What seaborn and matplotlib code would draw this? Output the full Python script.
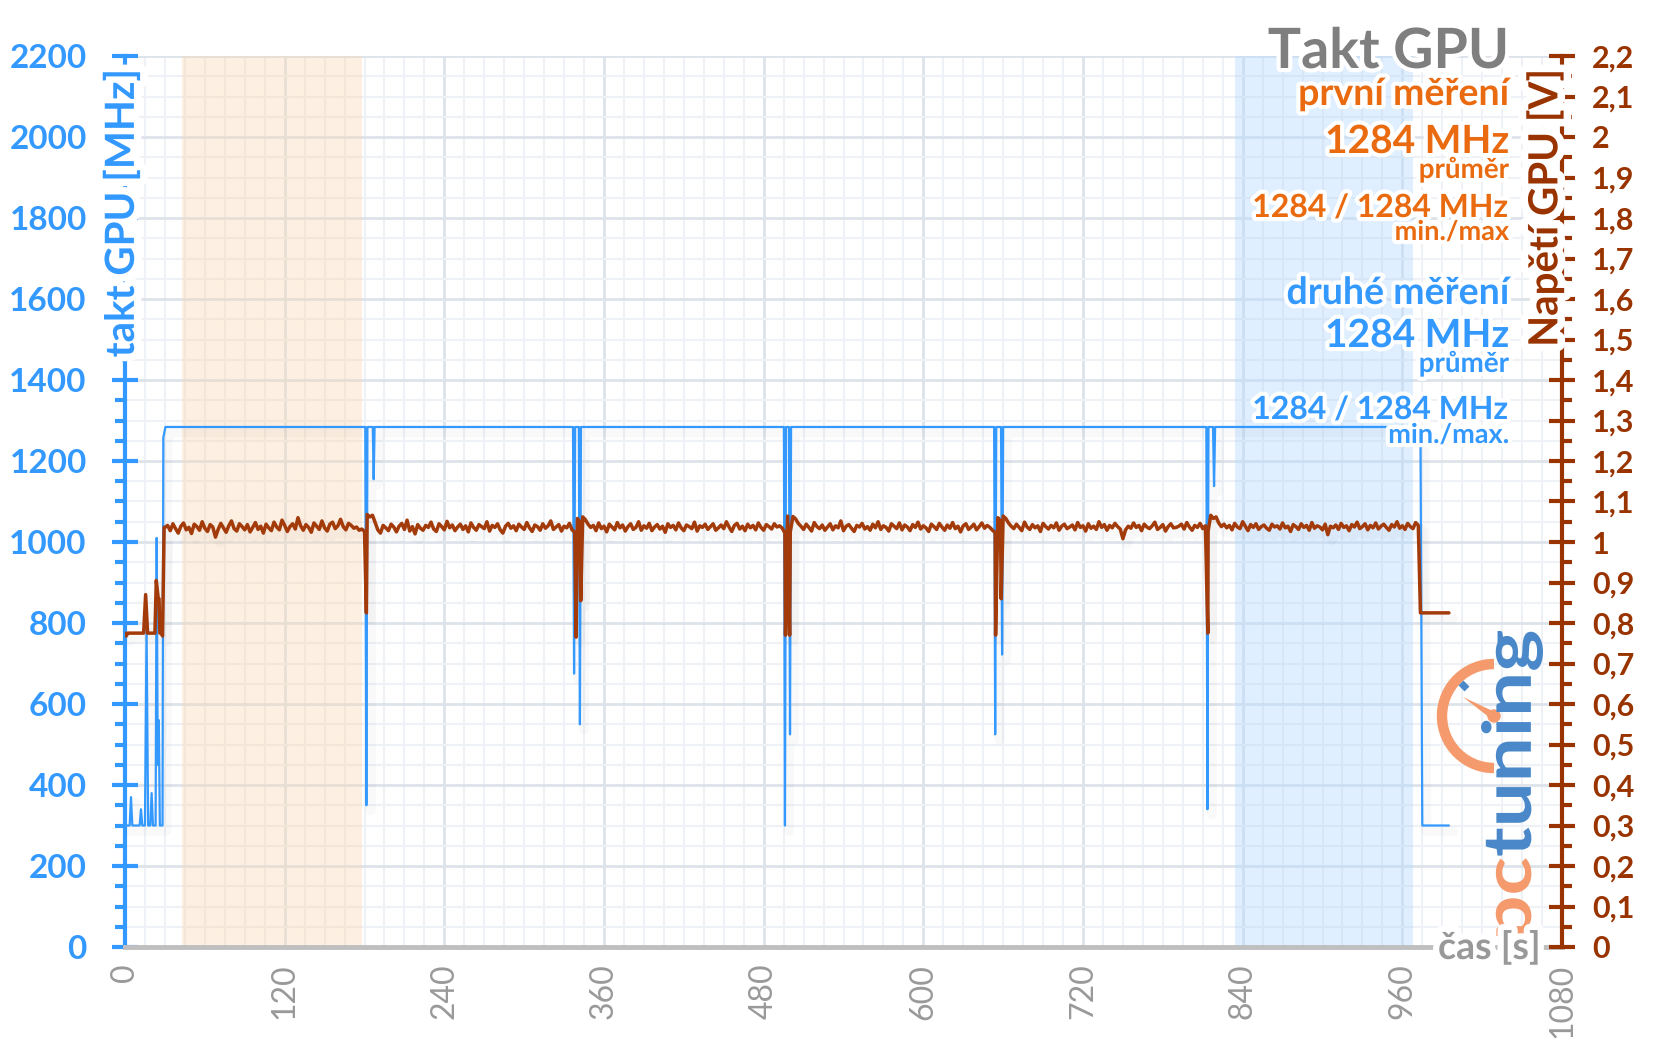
import numpy as np
import pandas as pd
import matplotlib
matplotlib.use('Agg')
import matplotlib.pyplot as plt
import matplotlib.patheffects as pe
from matplotlib.ticker import MultipleLocator
from matplotlib.patches import Arc, PathPatch, Polygon, Circle
from matplotlib.lines import Line2D
from matplotlib.textpath import TextPath
from matplotlib.font_manager import FontProperties
from matplotlib.transforms import Affine2D
import seaborn as sns

#-----------data--------------------------------
# GPU clock [MHz], breakpoints (time s, value)
clock_t = [0, 3.5, 4.5, 5.5, 11, 12, 13, 15, 16.2, 17.4, 19, 20, 21, 23, 23.8, 24.6, 25.4, 26.2, 28.2, 28.8, 30.4,
           180.6, 181.4, 182.2, 186.2, 186.9, 187.6,
           336.7, 337.5, 338.3, 341.1, 341.9, 342.7,
           495.2, 496, 496.8, 499, 499.8, 500.6,
           653.2, 654, 654.8, 658.4, 659.2, 660,
           812.7, 813.5, 814.3, 817.7, 818.5, 819.3,
           973.6, 975, 995]
clock_mhz = [300, 300, 370, 300, 300, 340, 300, 300, 790, 300, 300, 380, 300, 300, 1010, 450, 560, 300, 300, 1258, 1284,
             1284, 350, 1284, 1284, 1155, 1284,
             1284, 675, 1284, 1284, 550, 1284,
             1284, 300, 1284, 1284, 525, 1284,
             1284, 525, 1284, 1284, 722, 1284,
             1284, 340, 1284, 1284, 1138, 1284,
             1284, 300, 300]

# GPU voltage [V]: idle start, load noise (every 2 s from 30 s, in mV), dips, idle end
volt_start_t = [0, 1, 2, 14, 15.5, 17, 22.5, 23.5, 25, 25.6, 26.2, 27.4, 28.2, 29.4]
volt_start_v = [0.775, 0.768, 0.775, 0.775, 0.87, 0.775, 0.775, 0.905, 0.86, 0.86, 0.775, 0.775, 0.768, 1.036]

volt_noise_mv = [
    1036, 1041, 1028, 1045, 1033, 1022, 1039, 1047, 1030, 1036, 1021, 1044, 1038, 1029, 1050, 1034, 1026, 1043, 1037, 1012,
    1031, 1046, 1035, 1024, 1040, 1052, 1033, 1027, 1045, 1038, 1030, 1043, 1025, 1036, 1048, 1031, 1039, 1022, 1044, 1035,
    1028, 1049, 1037, 1030, 1054, 1041, 1026, 1038, 1045, 1032, 1060, 1040, 1029, 1043, 1036, 1024, 1047, 1039, 1031, 1052,
    1035, 1027, 1044, 1049, 1033, 1040, 1056, 1038, 1030, 1046, 1041, 1034, 1037, 1029, 1032, 1026, 1068, 1062, 1066, 1048,
    1030, 1022, 1041, 1035, 1028, 1044, 1037, 1025, 1039, 1046, 1031, 1054, 1027, 1038, 1020, 1043, 1034, 1029, 1041, 1036,
    1049, 1032, 1026, 1045, 1038, 1030, 1051, 1035, 1042, 1028, 1037, 1044, 1031, 1040, 1025, 1047, 1036, 1029, 1043, 1038,
    1033, 1050, 1027, 1041, 1036, 1045, 1030, 1022, 1039, 1046, 1034, 1040, 1028, 1044, 1037, 1031, 1048, 1035, 1026, 1042,
    1038, 1029, 1045, 1034, 1040, 1052, 1031, 1037, 1043, 1027, 1039, 1035, 1046, 1030, 1024, 1058, 1049, 1062, 1055, 1044,
    1036, 1041, 1028, 1047, 1033, 1039, 1025, 1044, 1037, 1030, 1048, 1035, 1042, 1027, 1038, 1045, 1031, 1036, 1050, 1029,
    1040, 1034, 1046, 1028, 1037, 1043, 1032, 1039, 1024, 1045, 1036, 1041, 1030, 1047, 1035, 1028, 1042, 1038, 1033, 1049,
    1027, 1040, 1036, 1044, 1031, 1038, 1045, 1029, 1035, 1042, 1033, 1050, 1037, 1026, 1041, 1046, 1032, 1039, 1028, 1044,
    1035, 1041, 1030, 1047, 1036, 1029, 1043, 1038, 1032, 1045, 1037, 1040, 1034, 1022, 1064, 1025, 1063, 1057, 1046, 1039,
    1031, 1044, 1036, 1027, 1048, 1038, 1033, 1042, 1029, 1037, 1045, 1030, 1040, 1035, 1052, 1028, 1039, 1043, 1034, 1026,
    1041, 1037, 1046, 1032, 1038, 1029, 1044, 1035, 1050, 1031, 1040, 1036, 1027, 1045, 1039, 1033, 1047, 1030, 1042, 1037,
    1028, 1043, 1036, 1049, 1032, 1040, 1035, 1026, 1044, 1038, 1031, 1046, 1037, 1029, 1042, 1034, 1048, 1033, 1039, 1025,
    1040, 1045, 1031, 1037, 1044, 1030, 1038, 1047, 1034, 1041, 1036, 1029, 1023, 1060, 1052, 1064, 1058, 1047, 1039, 1033,
    1044, 1036, 1028, 1049, 1037, 1031, 1043, 1035, 1040, 1026, 1046, 1038, 1032, 1041, 1035, 1047, 1029, 1039, 1044, 1033,
    1037, 1042, 1030, 1048, 1036, 1040, 1027, 1045, 1034, 1039, 1031, 1050, 1036, 1043, 1029, 1041, 1035, 1046, 1038, 1032,
    1008, 1030, 1039, 1034, 1047, 1036, 1041, 1028, 1044, 1037, 1033, 1040, 1049, 1031, 1036, 1043, 1027, 1038, 1045, 1035,
    1036, 1039, 1044, 1032, 1048, 1037, 1029, 1041, 1036, 1046, 1033, 1040, 1026, 1066, 1058, 1062, 1047, 1038, 1044, 1035,
    1041, 1030, 1046, 1037, 1033, 1050, 1039, 1028, 1043, 1036, 1045, 1031, 1038, 1042, 1034, 1029, 1044, 1037, 1040, 1032,
    1047, 1035, 1039, 1026, 1043, 1038, 1031, 1045, 1036, 1041, 1029, 1048, 1034, 1040, 1037, 1030, 1044, 1018, 1039, 1035,
    1042, 1031, 1046, 1036, 1040, 1028, 1043, 1037, 1049, 1033, 1038, 1045, 1030, 1041, 1035, 1047, 1032, 1039, 1044, 1036,
    1029, 1043, 1037, 1050, 1034, 1040, 1031, 1046, 1038, 1033, 1048, 1041]

volt_dip_t = [181.4, 339, 342.5, 496.4, 499.5, 654.3, 658.5, 813.8]
volt_dip_v = [0.825, 0.765, 0.855, 0.77, 0.77, 0.77, 0.86, 0.775]
volt_end_t = [973.6, 995]
volt_end_v = [0.825, 0.825]

# highlighted measuring windows [s]
first_window = (43, 178)
second_window = (834, 968)

x_ticks = [0, 120, 240, 360, 480, 600, 720, 840, 960, 1080]
mhz_ticks = [0, 200, 400, 600, 800, 1000, 1200, 1400, 1600, 1800, 2000, 2200]
volt_ticks = [0, 0.1, 0.2, 0.3, 0.4, 0.5, 0.6, 0.7, 0.8, 0.9, 1.0, 1.1,
              1.2, 1.3, 1.4, 1.5, 1.6, 1.7, 1.8, 1.9, 2.0, 2.1, 2.2]
volt_labels = ['0', '0,1', '0,2', '0,3', '0,4', '0,5', '0,6', '0,7', '0,8', '0,9', '1', '1,1',
               '1,2', '1,3', '1,4', '1,5', '1,6', '1,7', '1,8', '1,9', '2', '2,1', '2,2']

#-----------tables----------------
clock = pd.DataFrame({'t': clock_t, 'mhz': clock_mhz})
noise_t = 30 + 2 * np.arange(len(volt_noise_mv))
volt = pd.concat([
    pd.DataFrame({'t': volt_start_t, 'v': volt_start_v}),
    pd.DataFrame({'t': noise_t, 'v': np.array(volt_noise_mv) / 1000}),
    pd.DataFrame({'t': volt_dip_t, 'v': volt_dip_v}),
    pd.DataFrame({'t': volt_end_t, 'v': volt_end_v}),
]).sort_values('t')

#-----------style-------------
BLUE = '#3399ff'
RED = '#a33a0a'
RED_AX = '#993300'
ORANGE = '#ea6a0f'
GRAY = '#999999'
halo = [pe.withStroke(linewidth=6, foreground='white')]
halo_mid = [pe.withStroke(linewidth=9, foreground='white')]
halo_big = [pe.withStroke(linewidth=11, foreground='white')]

sns.set_theme(style='white')
plt.rcParams['font.family'] = ['Lato', 'DejaVu Sans']

W, H = 1656, 1044
fig = plt.figure(figsize=(W / 100, H / 100), dpi=100)
ax = fig.add_axes([125 / W, 1 - 947 / H, (1562 - 125) / W, (947 - 56) / H])
ax2 = ax.twinx()

# bands and grid
ax.set_axisbelow(True)
ax.xaxis.set_minor_locator(MultipleLocator(15))
ax.yaxis.set_minor_locator(MultipleLocator(50))
ax.grid(which='minor', color='#eef1f5', lw=1.5)
ax.grid(which='major', color='#dde3ea', lw=2)
ax.axvspan(*first_window, color='#fbd9b5', alpha=0.4, lw=0, zorder=1.5)
ax.axvspan(*second_window, color='#b3d7ff', alpha=0.4, lw=0, zorder=1.5)

# lines
sns.lineplot(data=clock, x='t', y='mhz', ax=ax, color=BLUE, linewidth=1.6,
             estimator=None, sort=False, zorder=3)
sns.lineplot(data=volt, x='t', y='v', ax=ax2, color=RED, linewidth=2.5,
             estimator=None, sort=False, zorder=3)
shadow = [pe.SimpleLineShadow(offset=(3, -4), shadow_color='black', alpha=0.025, linewidth=7), pe.Normal()]
ax.lines[-1].set_path_effects(shadow)
ax2.lines[-1].set_path_effects(shadow)

ax.set_xlim(0, 1080)
ax.set_ylim(0, 2200)
ax2.set_ylim(0, 2.2)
for a in (ax, ax2):
    a.set_xlabel('')
    a.set_ylabel('')

# spines
ax.spines['top'].set_visible(False)
ax.spines['right'].set_visible(False)
ax.spines['left'].set_color(BLUE)
ax.spines['left'].set_linewidth(3)
ax.spines['bottom'].set_color('#bfbfbf')
ax.spines['bottom'].set_linewidth(3.5)
for s in ('top', 'left', 'bottom'):
    ax2.spines[s].set_visible(False)
ax2.spines['right'].set_color(RED_AX)
ax2.spines['right'].set_linewidth(3)

# ticks
ax.set_xticks(x_ticks, [str(v) for v in x_ticks], rotation=90, color=GRAY, fontsize=23)
ax.tick_params(axis='x', which='major', direction='out', length=6, width=3, color='#bfbfbf', pad=6)
ax.tick_params(axis='x', which='minor', length=0)
ax.set_yticks(mhz_ticks, [str(v) for v in mhz_ticks], color=BLUE, fontsize=24, fontweight='bold')
ax.tick_params(axis='y', which='major', direction='inout', length=19, width=3, color=BLUE, pad=18)
ax.tick_params(axis='y', which='minor', direction='out', length=7, width=3, color=BLUE)

ax2.set_yticks(volt_ticks, volt_labels, color=RED_AX, fontsize=22, fontweight='bold')
ax2.yaxis.set_minor_locator(MultipleLocator(0.05))
ax2.tick_params(axis='y', which='major', direction='inout', length=19, width=3, color=RED_AX, pad=12)
ax2.tick_params(axis='y', which='minor', direction='out', length=7, width=3, color=RED_AX)

# axis titles sitting on the spines
fig.text(122 / W, 1 - 69 / H, 'takt GPU [MHz]', rotation=90, ha='center', va='top',
         color=BLUE, fontsize=29, fontweight='bold', path_effects=halo_big)
fig.text(1545 / W, 1 - 69 / H, 'Napětí GPU [V]', rotation=90, ha='center', va='top',
         color=RED_AX, fontsize=29, fontweight='bold', path_effects=halo_big)
fig.text(1541 / W, 1 - 947 / H, 'čas [s]', ha='right', va='center',
         color=GRAY, fontsize=27, fontweight='bold', path_effects=halo_mid)

# title and summary
XR = 1509 / W
notes = [
    ('Takt GPU', 68, '#7f7f7f', 40),
    ('první měření', 105, ORANGE, 27),
    ('1284 MHz', 153, ORANGE, 28),
    ('průměr', 178, ORANGE, 20),
    ('1284 / 1284 MHz', 217, ORANGE, 23),
    ('min./max', 240, ORANGE, 19.5),
    ('druhé měření', 304, BLUE, 27),
    ('1284 MHz', 347, BLUE, 28),
    ('průměr', 372, BLUE, 20),
    ('1284 / 1284 MHz', 419, BLUE, 23),
    ('min./max.', 443, BLUE, 19.5),
]
for txt, yb, col, fs in notes:
    fig.text(XR, 1 - yb / H, txt, ha='right', va='baseline', color=col,
             fontsize=fs, fontweight='bold', path_effects=halo)

#-----------logo (pctuning)-------------
pix = Affine2D().scale(1 / W, 1 / H) + fig.transFigure
LOGO_O = '#f49a6c'
LOGO_B = '#4a88c9'
fp = FontProperties(family='Lato', weight='bold')
p_full = TextPath((0, 0), 'pctuning', size=100, prop=fp)
p_tu0 = TextPath((0, 0), 'tuning', size=100, prop=fp)
off = p_full.get_extents().x1 - p_tu0.get_extents().x1
p_pc = TextPath((0, 0), 'pc', size=100, prop=fp)
p_tu = TextPath((off, 0), 'tuning', size=100, prop=fp)
e = p_full.get_extents()
sx = 305 / (e.x1 - e.x0)
sy = 62 / (e.y1 - e.y0)
tx = 1543 + sy * e.y0
ty = (H - 936) - sx * e.x0
M = Affine2D(np.array([[0, -sy, tx], [sx, 0, ty], [0, 0, 1.0]]))
fig.add_artist(PathPatch(p_pc, transform=M + pix, color=LOGO_O, lw=0, zorder=2))
fig.add_artist(PathPatch(p_tu, transform=M + pix, color=LOGO_B, lw=0, zorder=2))

cx, cy = 1494, H - 716
fig.add_artist(Arc((cx, cy), 104, 104, theta1=90, theta2=270, lw=7.5, color=LOGO_O, transform=pix))
fig.add_artist(Polygon([(cx + 2.1, cy + 3.4), (cx - 2.1, cy - 3.4), (cx - 31, cy + 19)],
                       closed=True, color=LOGO_O, transform=pix, lw=0))
fig.add_artist(Circle((cx, cy), 6, color=LOGO_O, transform=pix))
fig.add_artist(Line2D([cx - 27, cx - 33], [cy + 27, cy + 33], lw=5, color=LOGO_B, transform=pix,
                      solid_capstyle='butt'))

fig.savefig('out.png', dpi=100)
